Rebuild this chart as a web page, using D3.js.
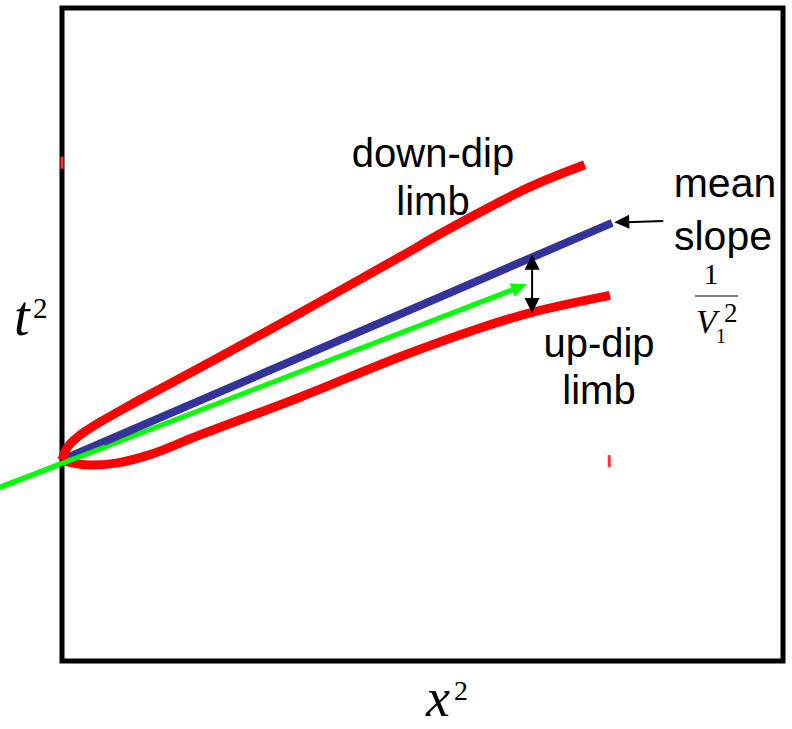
<!DOCTYPE html>
<html>
<head>
<meta charset="utf-8">
<script src="https://cdn.jsdelivr.net/npm/d3@7"></script>
<style>
  body { margin: 0; background: #fff; }
  svg { display: block; }
  .lbl { font-family: "Liberation Sans", Arial, sans-serif; font-size: 40px; fill: #000; }
  .math { font-family: "Liberation Serif", "Times New Roman", serif; fill: #000; }
</style>
</head>
<body>
<div id="chart"></div>
<script>
// data in arbitrary units, 0..100 on both axes
var downDipX = [0, 0.8, 3.0, 10.8, 19.1, 33.0, 46.9, 53.4, 64.9, 72.5];
var downDipY = [30.8, 32.8, 35.0, 40.0, 44.9, 53.3, 61.9, 66.0, 72.6, 76.0];

var upDipX = [0, 1.5, 4.0, 7.5, 12.2, 19.1, 33.0, 46.9, 58.0, 65.2, 76.0];
var upDipY = [30.8, 30.3, 30.0, 30.3, 31.6, 34.6, 40.4, 46.6, 51.0, 53.4, 56.0];

var meanSlopeX = [0, 76.3];
var meanSlopeY = [30.8, 67.1];

var greenX = [-8.6, 64.5];
var greenY = [26.6, 57.7];

var pointerX = [83.4, 76.6];
var pointerY = [67.4, 67.2];

var gapX = [65.2, 65.2];
var gapY = [62.2, 53.3];

var stray = [[0, 76.3], [75.9, 30.6]];

var margin = {top: 8, left: 62},
	full_width = 792,
	full_height = 729,
	width = 721,
	height = 653;

var x = d3.scaleLinear().domain([0, 100]).range([0, width]);
var y = d3.scaleLinear().domain([0, 100]).range([height, 0]);

var svg = d3.select('#chart')
	.append('svg')
	.attr('width', full_width)
	.attr('height', full_height);

var g = svg.append('g')
	.attr('transform', 'translate(' + margin.left + ',' + margin.top + ')');

var line = d3.line()
	.x(function(d) { return x(d[0]); })
	.y(function(d) { return y(d[1]); })
	.curve(d3.curveCatmullRom.alpha(0.5));

function pts(xs, ys) { return xs.map(function(v, i) { return [v, ys[i]]; }); }

// arrowhead as filled triangle at the end of a segment
function head(x0, y0, x1, y1, len, half) {
	var a = Math.atan2(y1 - y0, x1 - x0);
	var bx = x1 - len * Math.cos(a), by = y1 - len * Math.sin(a);
	var nx = -Math.sin(a) * half, ny = Math.cos(a) * half;
	return 'M' + x1 + ',' + y1 + 'L' + (bx + nx) + ',' + (by + ny) + 'L' + (bx - nx) + ',' + (by - ny) + 'Z';
}

// green arrow (extends past the box on the left)
var gx0 = x(greenX[0]), gy0 = y(greenY[0]), gx1 = x(greenX[1]), gy1 = y(greenY[1]);
var ga = Math.atan2(gy1 - gy0, gx1 - gx0);
function gyAt(px) { return gy0 + (gy1 - gy0) * (px - gx0) / (gx1 - gx0); }

g.append('line')
	.attr('x1', gx0).attr('y1', gy0)
	.attr('x2', gx1 - 12 * Math.cos(ga)).attr('y2', gy1 - 12 * Math.sin(ga))
	.attr('stroke', '#00ff00').attr('stroke-width', 5);
g.append('path').attr('d', head(gx0, gy0, gx1, gy1, 16, 7)).attr('fill', '#00ff00');

// frame
g.append('rect')
	.attr('x', 0).attr('y', 0)
	.attr('width', width).attr('height', height)
	.attr('fill', 'none').attr('stroke', '#000').attr('stroke-width', 5);

g.append('path')
	.datum(pts(meanSlopeX, meanSlopeY))
	.attr('d', line)
	.attr('fill', 'none').attr('stroke', '#333399').attr('stroke-width', 8);

g.append('path')
	.datum(pts(downDipX, downDipY))
	.attr('d', line)
	.attr('fill', 'none').attr('stroke', '#ff0000').attr('stroke-width', 9);

g.append('path')
	.datum(pts(upDipX, upDipY))
	.attr('d', line)
	.attr('fill', 'none').attr('stroke', '#ff0000').attr('stroke-width', 9);

// green line over frame and origin
g.append('line')
	.attr('x1', gx0).attr('y1', gy0)
	.attr('x2', x(6)).attr('y2', gyAt(x(6)))
	.attr('stroke', '#00ff00').attr('stroke-width', 5);

// stray red marks
g.selectAll('.stray').data(stray).enter().append('rect')
	.attr('class', 'stray')
	.attr('x', function(d) { return x(d[0]) - 1.5; })
	.attr('y', function(d) { return y(d[1]) - 6; })
	.attr('width', 3).attr('height', 12)
	.attr('fill', '#ff3333');

// pointer to mean slope
var px0 = x(pointerX[0]), py0 = y(pointerY[0]), px1 = x(pointerX[1]), py1 = y(pointerY[1]);
g.append('line')
	.attr('x1', px0).attr('y1', py0).attr('x2', px1 + 12).attr('y2', py1)
	.attr('stroke', '#000').attr('stroke-width', 2);
g.append('path').attr('d', head(px0, py0, px1, py1, 15, 7)).attr('fill', '#000');

// double arrow between mean slope and up-dip limb
var dx = x(gapX[0]), dy0 = y(gapY[0]), dy1 = y(gapY[1]);
g.append('line')
	.attr('x1', dx).attr('y1', dy0 + 10).attr('x2', dx).attr('y2', dy1 - 10)
	.attr('stroke', '#000').attr('stroke-width', 2);
g.append('path').attr('d', head(dx, dy1, dx, dy0, 15, 7.5)).attr('fill', '#000');
g.append('path').attr('d', head(dx, dy0, dx, dy1, 15, 7.5)).attr('fill', '#000');

// labels
svg.append('text').attr('class', 'lbl').attr('x', 433).attr('y', 167).attr('text-anchor', 'middle').text('down-dip');
svg.append('text').attr('class', 'lbl').attr('x', 433).attr('y', 215).attr('text-anchor', 'middle').text('limb');
svg.append('text').attr('class', 'lbl').attr('x', 599).attr('y', 357).attr('text-anchor', 'middle').text('up-dip');
svg.append('text').attr('class', 'lbl').attr('x', 599).attr('y', 404).attr('text-anchor', 'middle').text('limb');
svg.append('text').attr('class', 'lbl').attr('x', 725).attr('y', 197).attr('text-anchor', 'middle').style('font-size', '41px').text('mean');
svg.append('text').attr('class', 'lbl').attr('x', 723).attr('y', 250).attr('text-anchor', 'middle').style('font-size', '41px').text('slope');

// 1 / V1^2
svg.append('text').attr('class', 'math').attr('x', 711).attr('y', 284).attr('text-anchor', 'middle').style('font-size', '30px').text('1');
svg.append('line').attr('x1', 695).attr('y1', 296).attr('x2', 738).attr('y2', 296).attr('stroke', '#000').attr('stroke-width', 1.2);
svg.append('text').attr('class', 'math').attr('x', 696).attr('y', 333).style('font-size', '34px').style('font-style', 'italic').text('V');
svg.append('text').attr('class', 'math').attr('x', 716).attr('y', 343).style('font-size', '20px').text('1');
svg.append('text').attr('class', 'math').attr('x', 724).attr('y', 322).style('font-size', '27px').text('2');

// axis titles
svg.append('text').attr('class', 'math').attr('x', 14).attr('y', 335).style('font-size', '56px').style('font-style', 'italic').text('t');
svg.append('text').attr('class', 'math').attr('x', 33).attr('y', 318).style('font-size', '29px').text('2');

svg.append('text').attr('class', 'math').attr('x', 426).attr('y', 716).style('font-size', '54px').style('font-style', 'italic').text('x');
svg.append('text').attr('class', 'math').attr('x', 454).attr('y', 700).style('font-size', '28px').text('2');
</script>
</body>
</html>
